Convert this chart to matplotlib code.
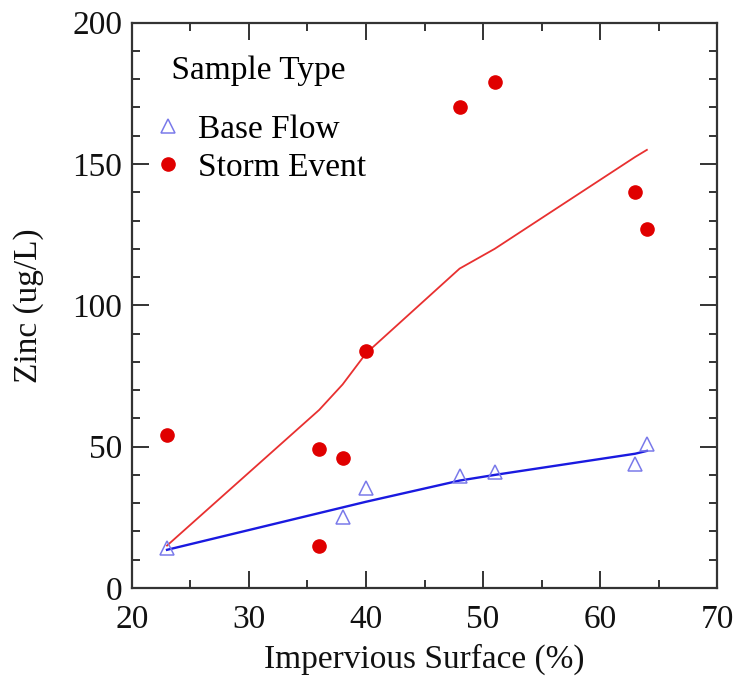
import matplotlib
matplotlib.use("Agg")
import matplotlib.pyplot as plt
from matplotlib.ticker import MultipleLocator
from matplotlib.lines import Line2D

plt.rcParams['font.family'] = ['Liberation Serif', 'DejaVu Serif']

# Data
base_x = [23, 38, 40, 48, 51, 63, 64]
base_y = [14, 25, 35.5, 39.5, 41, 44, 51]
storm_x = [23, 36, 36, 38, 40, 48, 51, 63, 64]
storm_y = [54, 49, 15, 46, 84, 170, 179, 140, 127]

base_fit_x = [23, 36, 38, 40, 48, 51, 63, 64]
base_fit_y = [13.5, 26.5, 28.5, 30.5, 38, 40, 47.5, 48.5]
storm_fit_x = [23, 36, 38, 40, 48, 51, 63, 64]
storm_fit_y = [15, 63, 72, 83, 113, 120, 152.5, 155]

fig = plt.figure(figsize=(7.37, 6.77), dpi=100)
ax = fig.add_axes([0.179, 0.1315, 0.794, 0.835])

ax.plot(storm_fit_x, storm_fit_y, color='#e83030', lw=1.3, zorder=2)
ax.plot(base_fit_x, base_fit_y, color='#1a1ae0', lw=1.7, zorder=2)
ax.plot(base_x, base_y, linestyle='none', marker='^', markersize=10,
        markerfacecolor='none', markeredgecolor='#7a7aea', markeredgewidth=1.1, zorder=3)
ax.plot(storm_x, storm_y, linestyle='none', marker='o', markersize=9.5,
        markerfacecolor='#e00000', markeredgecolor='#e00000', zorder=3)

ax.set_xlim(20, 70)
ax.set_ylim(0, 200)
ax.xaxis.set_major_locator(MultipleLocator(10))
ax.xaxis.set_minor_locator(MultipleLocator(5))
ax.yaxis.set_major_locator(MultipleLocator(50))
ax.yaxis.set_minor_locator(MultipleLocator(10))
ax.tick_params(which='both', direction='in', top=True, right=True,
               color='#333333', width=1.4, labelsize=24, labelcolor='#111111')
ax.tick_params(which='major', length=12)
ax.tick_params(axis='x', which='major', pad=12)
ax.tick_params(axis='y', which='major', pad=7)
ax.tick_params(which='minor', length=6)
for s in ax.spines.values():
    s.set_color('#333333')
    s.set_linewidth(1.6)

ax.set_xlabel('Impervious Surface (%)', fontsize=24, color='#111111', labelpad=6)
ax.set_ylabel('Zinc (ug/L)', fontsize=24, color='#111111', labelpad=20)

handles = [
    Line2D([], [], linestyle='none', marker='^', markersize=10, markerfacecolor='none',
           markeredgecolor='#7a7aea', markeredgewidth=1.1),
    Line2D([], [], linestyle='none', marker='o', markersize=9.5,
           markerfacecolor='#e00000', markeredgecolor='#e00000'),
]
leg = ax.legend(handles, ['Base Flow', 'Storm Event'], title=' Sample Type',
                loc='upper left', bbox_to_anchor=(0.024, 0.971), frameon=False,
                fontsize=24, title_fontsize=24, handletextpad=0.75, borderpad=0,
                handlelength=0.3, labelspacing=0.24, alignment='left')
leg._legend_box.sep = 20

fig.savefig('out.png', dpi=100)
